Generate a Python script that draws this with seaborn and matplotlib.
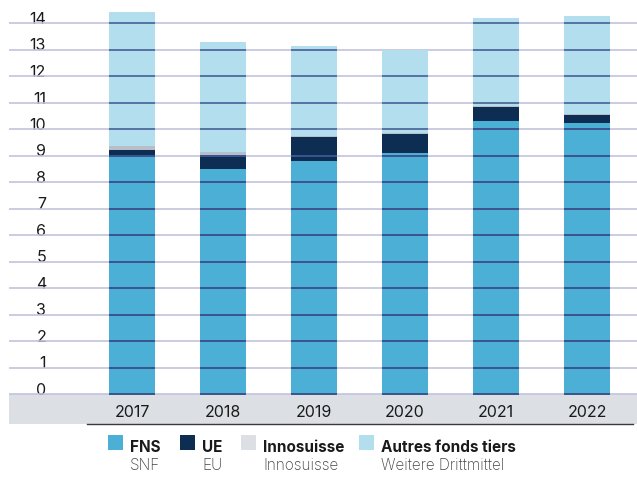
import numpy as np
import pandas as pd
import matplotlib
matplotlib.use("Agg")
import matplotlib.pyplot as plt
import matplotlib.patches as mpatches
import seaborn as sns

years = ["2017", "2018", "2019", "2020", "2021", "2022"]
fns = [8.95, 8.49, 8.79, 9.09, 10.30, 10.23]
ue = [0.26, 0.53, 0.92, 0.72, 0.53, 0.30]
innosuisse = [0.15, 0.12, 0.04, 0.03, 0.02, 0.02]
autres = [5.06, 4.14, 3.38, 3.14, 3.34, 3.71]
yticks = list(range(0, 15))

legend_bold = ["FNS", "UE", "Innosuisse", "Autres fonds tiers"]
legend_sub = ["SNF", "EU", "Innosuisse", "Weitere Drittmittel"]

c_fns = "#4bafd6"
c_ue = "#0d2d52"
c_inno_bar = "#b7bec8"
c_inno_leg = "#dcdfe3"
c_autres = "#b3deed"
band = "#dcdfe3"

sns.set_theme(style="white")
plt.rcParams["font.family"] = ["Inter", "DejaVu Sans"]

df = pd.DataFrame({"year": years, "fns": fns, "ue": ue, "inno": innosuisse, "autres": autres})
df["l1"] = df["fns"]
df["l2"] = df["l1"] + df["ue"]
df["l3"] = df["l2"] + df["inno"]
df["l4"] = df["l3"] + df["autres"]

W, H = 637, 481
fig = plt.figure(figsize=(W / 100, H / 100), dpi=100)
ax = fig.add_axes([9 / W, 1 - 425 / H, 628 / W, 425 / H])

px_per_unit = 26.5
ymin = -30 / px_per_unit
ymax = 395 / px_per_unit
xmin = (9 - 132) / 91
xmax = (637 - 132) / 91

for col, color in [("l4", c_autres), ("l3", c_inno_bar), ("l2", c_ue), ("l1", c_fns)]:
    sns.barplot(data=df, x="year", y=col, color=color, saturation=1, width=0.5,
                ax=ax, zorder=2, linewidth=0)

bars = list(ax.patches)

# gray band below zero
ax.axhspan(ymin, 0, color=band, zorder=0, lw=0)
# gridlines behind bars
ax.hlines(yticks, xmin, xmax, colors="#c3c3dc", lw=1.2, zorder=1)

# gridlines over bars (darker)
for p in bars:
    if p.get_height() <= 0:
        continue
    top = p.get_y() + p.get_height()
    ys = [t for t in yticks if t <= top]
    ax.hlines(ys, p.get_x(), p.get_x() + p.get_width(), colors="#3a5590", lw=1.1, zorder=3)

ax.set_xlim(xmin, xmax)
ax.set_ylim(ymin, ymax)
ax.set_xlabel("")
ax.set_ylabel("")

for s in ["top", "right", "left"]:
    ax.spines[s].set_visible(False)
ax.spines["bottom"].set_bounds(-0.5, 5.5)
ax.spines["bottom"].set_color("#3a3a3a")
ax.spines["bottom"].set_linewidth(1.0)
ax.spines["bottom"].set_zorder(4)

ax.set_yticks(yticks)
ax.set_yticklabels([str(t) for t in yticks])
ax.tick_params(axis="y", length=0, pad=-37 * 0.72, labelsize=11.5, labelcolor="#1a1a1a")
for lab in ax.get_yticklabels():
    lab.set_va("baseline")

ax.set_xticks(range(len(years)))
ax.set_xticklabels(years)
ax.tick_params(axis="x", which="major", length=0, pad=-20 * 0.72, labelsize=11.5, labelcolor="#1a1a1a")
ax.set_xticks(np.arange(-0.5, len(years), 1.0), minor=True)
ax.tick_params(axis="x", which="minor", direction="in", length=12 * 0.72, width=1.0, color="#3a3a3a")
ax.grid(False)

# legend
sq_x = [108, 180, 241, 359]
leg_colors = [c_fns, c_ue, c_inno_leg, c_autres]
for x, c, b, s in zip(sq_x, leg_colors, legend_bold, legend_sub):
    fig.patches.append(mpatches.Rectangle((x / W, 1 - 451 / H), 15 / W, 15 / H,
                                          transform=fig.transFigure, color=c, lw=0))
    fig.text((x + 22) / W, 1 - 452 / H, b, fontsize=11, fontweight="bold",
             color="#1a1a1a", va="baseline", ha="left")
    fig.text((x + 22) / W, 1 - 470 / H, s, fontsize=11, fontweight="light",
             color="#444444", va="baseline", ha="left")

fig.savefig("out.png", dpi=100)
